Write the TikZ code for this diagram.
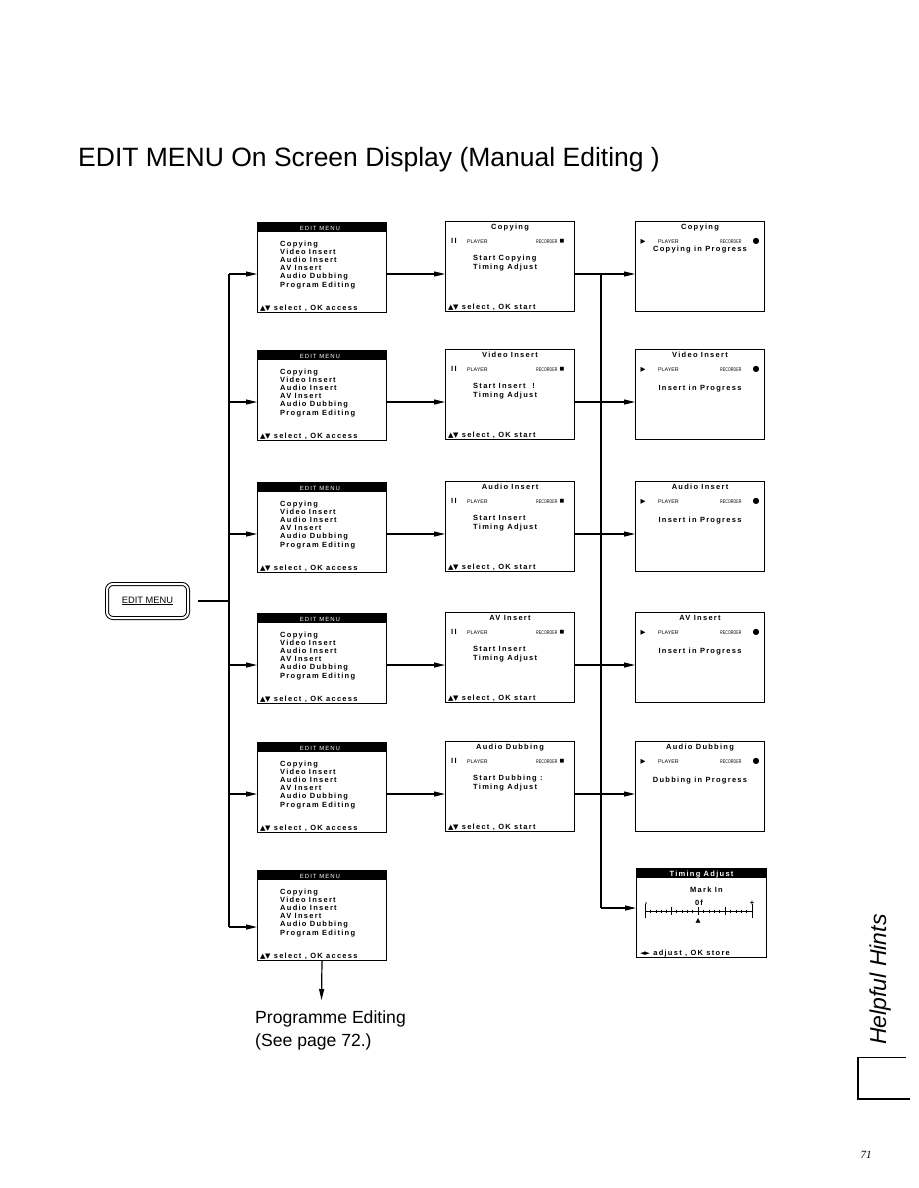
\documentclass[tikz,border=0pt]{standalone}
\usepackage{fontspec}
\setmainfont{Liberation Sans}
\newfontfamily\osdfont[LetterSpace=17]{Liberation Sans}
\newfontfamily\symfont{DejaVu Sans}
\newfontfamily\pagefont{Liberation Serif}
\usetikzlibrary{arrows.meta,calc}

\newcommand{\updown}{{\symfont\fontsize{7}{7}\selectfont ▲\kern-0.5pt▼}}

\tikzset{
  screen/.style={draw, line width=1pt, minimum width=129pt, minimum height=90pt, inner sep=0pt, anchor=north west},
  osd/.style={font=\osdfont\bfseries\fontsize{7.5}{8.3}\selectfont, inner sep=0pt},
  osdbar/.style={osd, text=white},
  tag/.style={font=\fontsize{5.3}{6}\selectfont, inner sep=0pt},
  sym/.style={font=\symfont\fontsize{6.5}{6.5}\selectfont, inner sep=0pt},
  flow/.style={line width=1.2pt, -{Triangle[length=11pt,width=5pt]}},
  wire/.style={line width=1.2pt},
}

\begin{document}
\begin{tikzpicture}[x=1pt,y=-1pt]
\useasboundingbox (0,0) rectangle (918,1188);

\node[anchor=base west, inner sep=0pt, font=\fontsize{26.5}{30}\selectfont] (title) at (78,166)
  {EDIT MENU On Screen Display (Manual Editing )};

% EDIT MENU button
\node[draw, double, double distance=2pt, line width=1pt, rounded corners=6pt,
  minimum width=81pt, minimum height=34pt, font=\fontsize{9.3}{10}\selectfont] (btn) at (147.5,601)
  {\underline{EDIT MENU}};

% edit menu screens
\foreach \yy [count=\i] in {222,350,482,613,742,870} {
  \node[screen] (m\i) at (257,\yy) {};
  \fill (m\i.north west) rectangle ++(129,10);
  \node[osdbar, font=\osdfont\fontsize{6}{6}\selectfont, anchor=base] at ($(m\i.north)+(-2,8)$) {EDIT MENU};
  \foreach \w [count=\j] in {Copying,Video Insert,Audio Insert,AV Insert,Audio Dubbing,Program Editing}
    \node[osd, anchor=base west] at ($(m\i.north west)+(23,15.8+8.2*\j)$) {\w};
  \node[osd, anchor=base west] at ($(m\i.south west)+(3,-3)$) {\updown\ select , OK access};
}

% player / recorder screens
\foreach \yy/\ttl/\startline/\busy/\dy [count=\i] in {
    221/Copying/Start Copying/Copying in Progress/28,
    349/Video Insert/Start Insert\ \ !/Insert in Progress/39,
    481/Audio Insert/Start Insert/Insert in Progress/39,
    612/AV Insert/Start Insert/Insert in Progress/39,
    741/Audio Dubbing/Start Dubbing :/Dubbing in Progress/39} {
  \node[screen] (p\i) at (445,\yy) {};
  \node[osd, anchor=base] at ($(p\i.north)+(0,8.5)$) {\ttl};
  \node[osd, anchor=base west] at ($(p\i.north west)+(6,22.5)$) {II};
  \node[tag, anchor=base west] at ($(p\i.north west)+(22,22.5)$) {PLAYER};
  \node[tag, anchor=base west] at ($(p\i.north west)+(91,22.5)$) {\scalebox{0.7}[1]{RECORDER}};
  \node[sym, font=\symfont\fontsize{5}{5}\selectfont] at ($(p\i.north west)+(117,20.5)$) {■};
  \node[osd, anchor=base west] at ($(p\i.north west)+(28,39.5)$) {\startline};
  \node[osd, anchor=base west] at ($(p\i.north west)+(28,48)$) {Timing Adjust};
  \node[osd, anchor=base west] at ($(p\i.south west)+(3,-3)$) {\updown\ select , OK start};

  \node[screen] (s\i) at (635,\yy) {};
  \node[osd, anchor=base] at ($(s\i.north)+(0,8.5)$) {\ttl};
  \node[sym] at ($(s\i.north west)+(8,20.5)$) {▶};
  \node[tag, anchor=base west] at ($(s\i.north west)+(23,22.5)$) {PLAYER};
  \node[tag, anchor=base west] at ($(s\i.north west)+(85,22.5)$) {\scalebox{0.7}[1]{RECORDER}};
  \node[sym, font=\symfont\fontsize{8}{8}\selectfont] at ($(s\i.north west)+(121,20.5)$) {●};
  \node[osd, anchor=base] at ($(s\i.north)+(0,\dy+2.5)$) {\busy};

  % arrows of the row
  \coordinate (lb\i) at (229,\yy+53);
  \coordinate (rb\i) at (601,\yy+53);
  \draw[flow] (lb\i) -- (m\i.west |- lb\i);
  \draw[flow] (m\i.east |- lb\i) -- (p\i.west |- lb\i);
  \draw[flow] (p\i.east |- rb\i) -- (s\i.west |- rb\i);
}

% timing adjust screen
\node[screen, minimum width=130pt, minimum height=89pt] (tim) at (636,868) {};
\fill (tim.north west) rectangle ++(130,10);
\node[osdbar, anchor=base] at ($(tim.north)+(0,8)$) {Timing Adjust};
\node[osd, anchor=base] at ($(tim.north)+(5,24)$) {Mark In};
\node[osd, anchor=base] at (646,905) {-};
\node[osd, anchor=base] at (699,905) {0f};
\node[osd, anchor=base] at (752,905) {+};
\draw[line width=1pt] (645,911) -- (752,911);
\foreach \x in {645,752} \draw[line width=1pt] (\x,904) -- (\x,918);
\foreach \x in {671,698,725} \draw[line width=1pt] (\x,907) -- (\x,915);
\foreach \x in {650.4,655.8,661.2,666.6,676.4,681.8,687.2,692.6,703.4,708.8,714.2,719.6,730.4,735.8,741.2,746.6}
  \draw[line width=0.6pt] (\x,909.5) -- (\x,912.5);
\node[sym] at (698,921) {▲};
\node[osd, anchor=base west] at ($(tim.south west)+(4,-3)$) {{\symfont\fontsize{7}{7}\selectfont ◄\kern-1pt►}\ adjust , OK store};

% buses
\coordinate (lb6) at (229,927);
\coordinate (rb6) at (601,908);
\coordinate (bus) at (229,600);
\draw[wire, shorten <=9pt] (btn.east) -- (btn.east -| bus);
\draw[wire] (lb1) -- (lb6);
\draw[flow] (lb6) -- (m6.west |- lb6);
\draw[wire] (rb1) -- (rb6);
\draw[flow] (rb6) -- (tim.west |- rb6);

% programme editing
\coordinate (down) at (321.5,1000);
\draw[flow] (m6.south) -- (down);
\node[anchor=base west, inner sep=0pt, font=\fontsize{17.6}{20}\selectfont] (prog) at (255,1023) {Programme Editing};
\node[anchor=base west, inner sep=0pt, font=\fontsize{17.6}{20}\selectfont] (seep) at (255,1046) {(See page 72.)};

% side tab
\node[rotate=90, anchor=base west, inner sep=0pt, font=\itshape\fontsize{23}{23}\selectfont] (hints) at (886,1045) {Helpful Hints};
\draw[line width=1.2pt] (858,1057) -- (858,1099) -- (910,1099);
\draw[line width=0.6pt] (858,1057) -- (906,1057);
\node[font=\pagefont\itshape\fontsize{11}{12}\selectfont, inner sep=0pt] (pnum) at (866,1155) {71};
\end{tikzpicture}
\end{document}
